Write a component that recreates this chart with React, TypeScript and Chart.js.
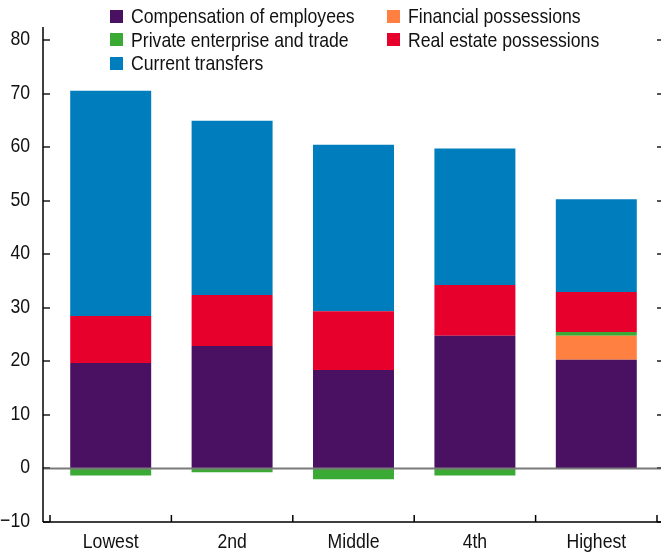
import React, { useEffect, useRef } from "react";
import { Chart, registerables } from "chart.js";

Chart.register(...registerables);

const categories = ["Lowest", "2nd", "Middle", "4th", "Highest"];
const compensation = [19.7, 22.9, 18.4, 24.8, 20.3];
const financial = [0, 0, 0, 0, 4.5];
const privateEnterprise = [-1.3, -0.7, -2.0, -1.3, 0.7];
const realEstate = [8.8, 9.5, 11.0, 9.5, 7.5];
const currentTransfers = [42.1, 32.6, 31.1, 25.5, 17.3];
const yTickValues = [-10, 0, 10, 20, 30, 40, 50, 60, 70, 80];

const seriesNames = [
  "Compensation of employees",
  "Financial possessions",
  "Private enterprise and trade",
  "Real estate possessions",
  "Current transfers",
];
const seriesColors = ["#4A1163", "#FF8040", "#3AAA35", "#E8002C", "#007DBD"];

const FONT = "'Liberation Sans', Arial, sans-serif";
const FONT_SIZE = 21;
const SX = 0.84;

function drawScaledText(ctx: any, text: string, x: number, y: number, align: string) {
  ctx.save();
  ctx.translate(x, y);
  ctx.scale(SX, 1);
  ctx.font = `${FONT_SIZE}px ${FONT}`;
  ctx.fillStyle = "#111";
  ctx.textAlign = align;
  ctx.textBaseline = "alphabetic";
  ctx.fillText(text, 0, 0);
  ctx.restore();
}

const axesPlugin = {
  id: "customAxes",
  afterDatasetsDraw(chart: any) {
    const { ctx, chartArea } = chart;
    const y = chart.scales.y;
    const x = chart.scales.x;
    const axisX = chartArea.left - 7;
    const right = chart.width;
    ctx.save();
    // zero line
    const y0 = y.getPixelForValue(0);
    ctx.strokeStyle = "#7a7a7a";
    ctx.lineWidth = 2;
    ctx.beginPath();
    ctx.moveTo(axisX, y0);
    ctx.lineTo(right, y0);
    ctx.stroke();
    // y ticks + labels
    ctx.strokeStyle = "#555";
    ctx.lineWidth = 2;
    y.ticks.forEach((t: any) => {
      const py = Math.round(y.getPixelForValue(t.value));
      ctx.beginPath();
      ctx.moveTo(axisX, py);
      ctx.lineTo(axisX + 7, py);
      ctx.moveTo(right - 4, py);
      ctx.lineTo(right, py);
      ctx.stroke();
      const v = Number(t.value);
      const label = v < 0 ? "\u2212" + Math.abs(v) : String(v);
      drawScaledText(ctx, label, axisX - 13, py + 5, "right");
    });
    // left axis line
    ctx.strokeStyle = "#000";
    ctx.lineWidth = 1.5;
    ctx.beginPath();
    ctx.moveTo(axisX, chartArea.top);
    ctx.lineTo(axisX, chartArea.bottom);
    ctx.stroke();
    // bottom axis line
    ctx.beginPath();
    ctx.moveTo(axisX, chartArea.bottom);
    ctx.lineTo(right, chartArea.bottom);
    ctx.stroke();
    // x ticks at category boundaries + labels
    const n = categories.length;
    const w = (chartArea.right - chartArea.left) / n;
    for (let i = 0; i <= n; i++) {
      const px = i < n ? x.getPixelForValue(i) - w / 2 : x.getPixelForValue(n - 1) + w / 2;
      ctx.beginPath();
      ctx.moveTo(px, chartArea.bottom);
      ctx.lineTo(px, chartArea.bottom - 7);
      ctx.stroke();
    }
    categories.forEach((c, i) => {
      drawScaledText(ctx, String(x.getLabelForValue(i)), x.getPixelForValue(i), chartArea.bottom + 26, "center");
    });
    ctx.restore();
  },
};

export default function App() {
  const ref = useRef<HTMLCanvasElement>(null);
  useEffect(() => {
    document.body.style.margin = "0";
    const datasetsSrc = [compensation, financial, privateEnterprise, realEstate, currentTransfers];
    const chart = new Chart(ref.current!, {
      type: "bar",
      data: {
        labels: categories,
        datasets: datasetsSrc.map((d, i) => ({
          label: seriesNames[i],
          data: d,
          backgroundColor: seriesColors[i],
          borderWidth: 0,
          categoryPercentage: 1,
          barPercentage: 0.667,
        })),
      },
      options: {
        animation: false,
        responsive: false,
        maintainAspectRatio: false,
        layout: { padding: { top: 27, right: 4, left: 0, bottom: 0 } },
        plugins: { legend: { display: false }, tooltip: { enabled: false } },
        scales: {
          x: {
            stacked: true,
            grid: { display: false, drawTicks: false },
            border: { display: false },
            ticks: { display: false },
            afterFit: (s: any) => { s.height = 32; },
          },
          y: {
            stacked: true,
            min: -10,
            max: 82.5,
            grid: { display: false, drawTicks: false },
            border: { display: false },
            ticks: { display: false },
            afterBuildTicks: (s: any) => {
              s.ticks = yTickValues.map((v) => ({ value: v }));
            },
            afterFit: (s: any) => { s.width = 50; },
          },
        },
      },
      plugins: [axesPlugin],
    });
    return () => chart.destroy();
  }, []);

  const legendPos = [
    { x: 110, y: 16 },
    { x: 387, y: 16 },
    { x: 110, y: 39.5 },
    { x: 387, y: 39.5 },
    { x: 110, y: 63 },
  ];

  return (
    <div style={{ position: "fixed", left: 0, top: 0, width: 661, height: 554, background: "#fff" }}>
      <canvas ref={ref} width={661} height={554} style={{ position: "absolute", left: 0, top: 0, width: 661, height: 554 }} />
      {seriesNames.map((name, i) => (
        <div
          key={name}
          style={{
            position: "absolute",
            left: legendPos[i].x,
            top: legendPos[i].y - 12,
            height: 24,
            display: "flex",
            alignItems: "center",
            whiteSpace: "nowrap",
          }}
        >
          <span style={{ display: "inline-block", width: 13, height: 13, background: seriesColors[i], marginRight: 8, flex: "none" }} />
          <span
            style={{
              display: "inline-block",
              fontFamily: FONT,
              fontSize: FONT_SIZE,
              lineHeight: "24px",
              color: "#111",
              transform: `scaleX(${SX})`,
              transformOrigin: "left center",
            }}
          >
            {name}
          </span>
        </div>
      ))}
    </div>
  );
}
